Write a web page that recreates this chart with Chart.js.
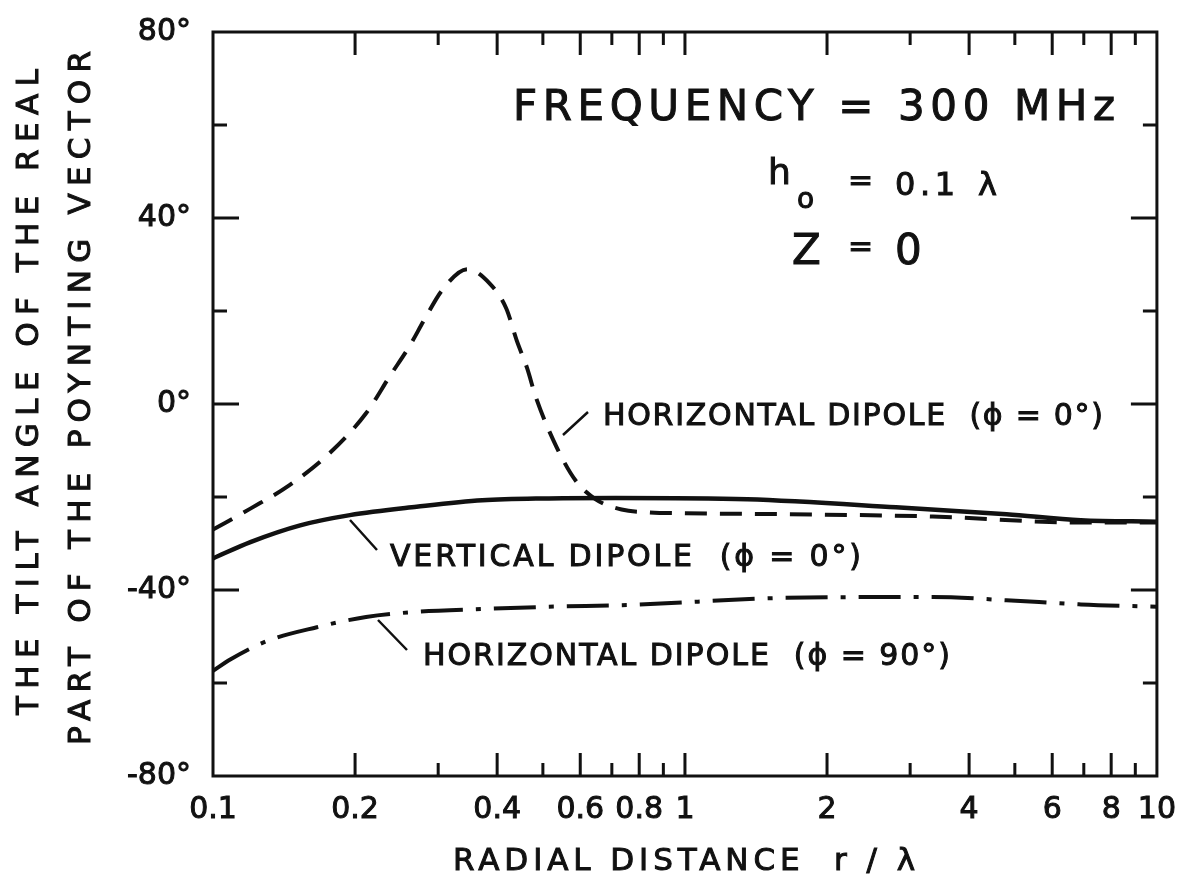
<!DOCTYPE html>
<html>
<head>
<meta charset="utf-8">
<script src="https://cdn.jsdelivr.net/npm/chart.js@4"></script>
<style>
  html, body { margin: 0; padding: 0; background: #fff; }
  #wrap { width: 1184px; height: 880px; }
</style>
</head>
<body>
<div id="wrap"><canvas id="c" width="1184" height="880"></canvas></div>
<script>
// radial distance r/λ (log axis) and tilt angle in degrees
const hd0R   = [0.1, 0.12, 0.145, 0.177, 0.211, 0.237, 0.261, 0.28, 0.306, 0.346, 0.385, 0.418, 0.44, 0.463, 0.483, 0.533, 0.587, 0.647, 0.734, 0.837, 1.0, 1.62, 3.35, 6.9, 10];
const hd0Deg = [-27, -22.5, -17.5, -10.5, -2, 6, 12.5, 18, 24.5, 29, 26, 20.6, 13.7, 7.7, 1.5, -9, -16.5, -20.5, -22.7, -23.3, -23.5, -23.7, -24.2, -25.5, -25.5];

const vdR    = [0.1, 0.12, 0.153, 0.195, 0.27, 0.372, 0.515, 0.713, 1.355, 2.8, 4.8, 6.9, 10];
const vdDeg  = [-33.2, -29.7, -26.1, -23.9, -22.1, -20.7, -20.3, -20.2, -20.5, -22.2, -23.7, -25, -25.3];

const hd90R   = [0.1, 0.109, 0.13, 0.166, 0.211, 0.27, 0.372, 0.515, 0.771, 1.62, 3.35, 4.8, 6.9, 10];
const hd90Deg = [-57.4, -54.9, -51, -48, -45.8, -44.7, -44.1, -43.6, -43.2, -41.7, -41.5, -42.2, -43.1, -43.6];

const xLabelTicks = [0.1, 0.2, 0.4, 0.6, 0.8, 1, 2, 4, 6, 8, 10];
const xMinorTicks = [0.3, 0.5, 0.7, 0.9, 3, 5, 7, 9];
const yMajorTicks = [-80, -40, 0, 40, 80];
const yMinorTicks = [-60, -20, 20, 60];

const FONT = '"DejaVu Sans", "Liberation Sans", sans-serif';
const INK = '#111';

const pts = (xs, ys) => xs.map((x, i) => ({ x, y: ys[i] }));

// draw text stretched between left and right by letter spacing, slightly thickened
function fitText(ctx, str, left, right, baseline, size) {
  ctx.font = size + 'px ' + FONT;
  ctx.letterSpacing = '0px';
  const w = ctx.measureText(str).width;
  const n = [...str].length;
  ctx.letterSpacing = (n > 1 ? (right - left - w) / (n - 1) : 0) + 'px';
  ctx.textAlign = 'left';
  ctx.textBaseline = 'alphabetic';
  ctx.lineWidth = 1;
  ctx.fillText(str, left, baseline);
  ctx.strokeText(str, left, baseline);
  ctx.letterSpacing = '0px';
}

const framePlugin = {
  id: 'frame',
  afterDraw(chart) {
    const { ctx, chartArea: a, scales: { x, y } } = chart;
    ctx.save();
    ctx.strokeStyle = INK;
    ctx.fillStyle = INK;
    ctx.lineWidth = 3;
    ctx.lineCap = 'butt';
    ctx.strokeRect(a.left, a.top, a.right - a.left, a.bottom - a.top);

    // inward ticks, all four sides
    ctx.beginPath();
    const xt = (v, len) => {
      const p = x.getPixelForValue(v);
      ctx.moveTo(p, a.bottom); ctx.lineTo(p, a.bottom - len);
      ctx.moveTo(p, a.top);    ctx.lineTo(p, a.top + len);
    };
    const yt = (v, len) => {
      const p = y.getPixelForValue(v);
      ctx.moveTo(a.left, p);  ctx.lineTo(a.left + len, p);
      ctx.moveTo(a.right, p); ctx.lineTo(a.right - len, p);
    };
    xLabelTicks.slice(1, -1).forEach(v => xt(v, 23));
    xMinorTicks.forEach(v => xt(v, 13));
    yMajorTicks.slice(1, -1).forEach(v => yt(v, 26));
    yMinorTicks.forEach(v => yt(v, 14));
    ctx.stroke();

    // leader lines to curve labels
    ctx.lineWidth = 2.5;
    ctx.beginPath();
    ctx.moveTo(563, 435); ctx.lineTo(588, 412);
    ctx.moveTo(350, 520); ctx.lineTo(377, 550);
    ctx.moveTo(378, 620); ctx.lineTo(407, 650);
    ctx.stroke();

    // curve labels
    fitText(ctx, 'HORIZONTAL DIPOLE  (ϕ = 0°)', 603, 1103, 425, 30);
    fitText(ctx, 'VERTICAL DIPOLE  (ϕ = 0°)', 390, 861, 566, 30);
    fitText(ctx, 'HORIZONTAL DIPOLE  (ϕ = 90°)', 423, 950, 665, 30);

    // parameter block
    fitText(ctx, 'FREQUENCY = 300 MHz', 513, 1115, 120, 42);
    fitText(ctx, 'h', 768, 790, 184, 36);
    fitText(ctx, 'o', 797, 815, 208, 28);
    fitText(ctx, '=', 848, 866, 190, 30);
    fitText(ctx, '0.1', 895, 955, 195, 32);
    fitText(ctx, 'λ', 978, 1000, 195, 32);
    fitText(ctx, 'Z', 792, 818, 264, 42);
    fitText(ctx, '=', 848, 866, 256, 30);
    fitText(ctx, '0', 895, 921, 264, 42);

    // axis titles
    fitText(ctx, 'RADIAL DISTANCE  r / λ', 453, 915, 870, 31);
    ctx.save();
    ctx.translate(38, 392);
    ctx.rotate(-Math.PI / 2);
    fitText(ctx, 'THE TILT ANGLE OF THE REAL', -323, 323, 0, 31);
    ctx.restore();
    ctx.save();
    ctx.translate(90, 398);
    ctx.rotate(-Math.PI / 2);
    fitText(ctx, 'PART OF THE POYNTING VECTOR', -347, 347, 0, 31);
    ctx.restore();
    ctx.restore();
  }
};

const lineStyle = {
  borderColor: INK,
  borderWidth: 4,
  pointRadius: 0,
  fill: false,
  cubicInterpolationMode: 'monotone'
};

const tickFont = { family: FONT, size: 30 };

new Chart(document.getElementById('c'), {
  type: 'line',
  data: {
    datasets: [
      { ...lineStyle, label: 'Horizontal dipole (ϕ = 0°)', data: pts(hd0R, hd0Deg), borderDash: [22, 13] },
      { ...lineStyle, label: 'Vertical dipole (ϕ = 0°)', data: pts(vdR, vdDeg), borderWidth: 4.5 },
      { ...lineStyle, label: 'Horizontal dipole (ϕ = 90°)', data: pts(hd90R, hd90Deg), borderDash: [42, 13, 5, 13] }
    ]
  },
  options: {
    responsive: false,
    animation: false,
    layout: { padding: { left: 0, top: 23, right: 24, bottom: 0 } },
    plugins: { legend: { display: false }, tooltip: { enabled: false } },
    scales: {
      x: {
        type: 'logarithmic',
        min: 0.1, max: 10,
        grid: { display: false },
        border: { display: false },
        afterBuildTicks: s => { s.ticks = xLabelTicks.map(v => ({ value: v })); },
        afterFit: s => { s.height = 104; },
        ticks: {
          autoSkip: false, maxRotation: 0, padding: 8,
          color: INK, font: tickFont,
          textStrokeColor: INK, textStrokeWidth: 1,
          callback: v => String(v)
        }
      },
      y: {
        min: -80, max: 80,
        grid: { display: false },
        border: { display: false },
        afterFit: s => { s.width = 213; },
        ticks: {
          stepSize: 40, padding: 14,
          color: INK, font: tickFont,
          textStrokeColor: INK, textStrokeWidth: 1,
          callback: v => v + '°'
        }
      }
    }
  },
  plugins: [framePlugin]
});
</script>
</body>
</html>
